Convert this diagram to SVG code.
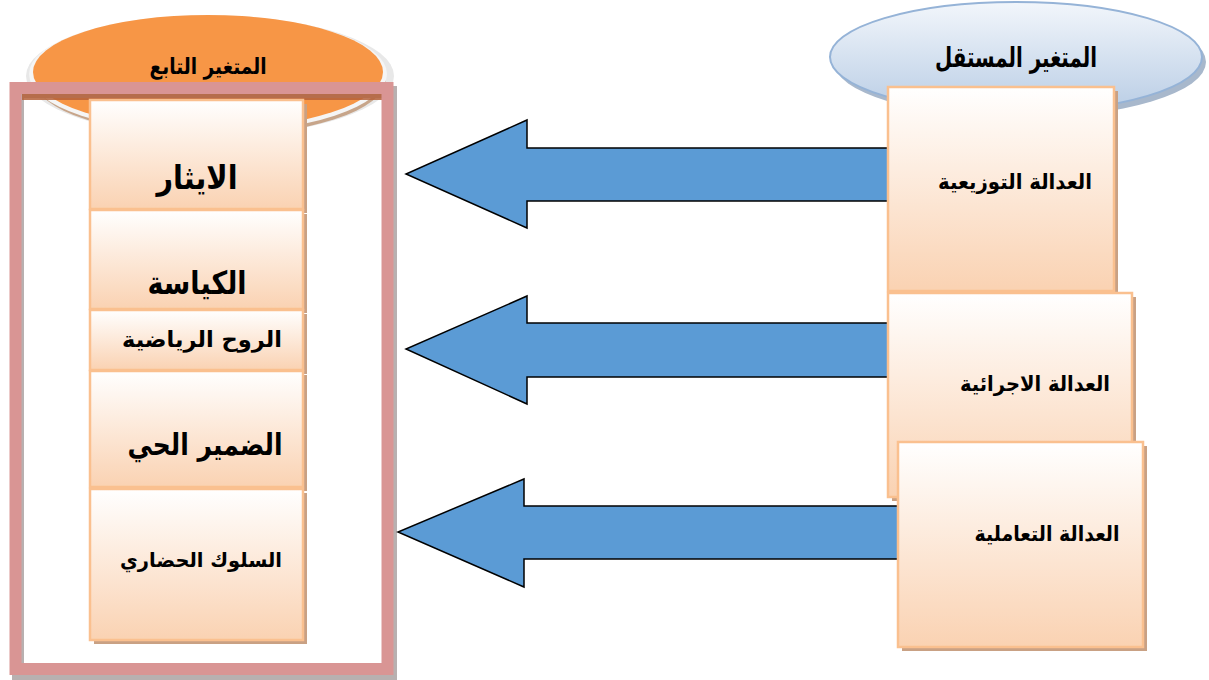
<svg xmlns="http://www.w3.org/2000/svg" width="1209" height="680" viewBox="0 0 1209 680">
<defs>
<linearGradient id="peach" x1="0" y1="0" x2="0" y2="1">
<stop offset="0" stop-color="#FFFFFF"/>
<stop offset="1" stop-color="#FAD2B2"/>
</linearGradient>
<linearGradient id="blue" x1="0" y1="0" x2="0" y2="1">
<stop offset="0" stop-color="#F2F6FB"/>
<stop offset="1" stop-color="#B9CDE5"/>
</linearGradient>
<style>
.box{fill:url(#peach);stroke:#FAC08F;stroke-width:2.5}
.shadow{fill:#C9A184}
.arrow{fill:#5B9BD5;stroke:#000000;stroke-width:1.5;stroke-linejoin:miter}
.t{font-family:"DejaVu Sans",sans-serif;font-weight:bold;fill:#000000;text-anchor:middle}
</style>
</defs>
<rect width="1209" height="680" fill="#FFFFFF"/>

<g id="dependent-title">
<ellipse cx="210" cy="76" rx="184" ry="60" fill="#E8E8E8"/>
<ellipse cx="210" cy="79" rx="176" ry="57" fill="#C7A58A"/>
<ellipse cx="208" cy="74" rx="179" ry="59" fill="#F5F5F5"/>
<ellipse cx="208" cy="72" rx="175" ry="57" fill="#F79646"/>
<text class="t" x="208" y="74" font-size="22" textLength="117" lengthAdjust="spacingAndGlyphs">المتغير التابع</text>
</g>

<g id="dependent-frame">
<rect x="18" y="92" width="373" height="583" fill="none" stroke="#B8B0B0" stroke-width="12"/>
<rect x="22" y="94" width="360" height="6" fill="#B5613A" opacity="0.85"/>
<rect x="15.5" y="88" width="372" height="581" fill="none" stroke="#D99594" stroke-width="12"/>
</g>

<g id="box-ithar">
<rect class="shadow" x="94" y="104" width="213" height="109"/>
<rect class="box" x="90" y="100" width="213" height="109"/>
<text class="t" x="197" y="189" font-size="33" textLength="81" lengthAdjust="spacingAndGlyphs">الايثار</text>
</g>
<g id="box-kiyasa">
<rect class="shadow" x="94" y="214" width="213" height="99"/>
<rect class="box" x="90" y="210" width="213" height="99"/>
<text class="t" x="197" y="294" font-size="32" textLength="99" lengthAdjust="spacingAndGlyphs">الكياسة</text>
</g>
<g id="box-sportsmanship">
<rect class="shadow" x="94" y="314" width="213" height="60"/>
<rect class="box" x="90" y="310" width="213" height="60"/>
<text class="t" x="202" y="347" font-size="22" textLength="160" lengthAdjust="spacingAndGlyphs">الروح الرياضية</text>
</g>
<g id="box-conscience">
<rect class="shadow" x="94" y="375" width="213" height="116"/>
<rect class="box" x="90" y="371" width="213" height="116"/>
<text class="t" x="205" y="455" font-size="30" textLength="155" lengthAdjust="spacingAndGlyphs">الضمير الحي</text>
</g>
<g id="box-civic">
<rect class="shadow" x="94" y="493" width="213" height="151"/>
<rect class="box" x="90" y="489" width="213" height="151"/>
<text class="t" x="201" y="567" font-size="20" textLength="162" lengthAdjust="spacingAndGlyphs">السلوك الحضاري</text>
</g>

<g id="independent-title">
<ellipse cx="1020" cy="62" rx="186" ry="56" fill="#A8B8CC"/>
<ellipse cx="1016" cy="57" rx="186" ry="55" fill="url(#blue)" stroke="#95B3D7" stroke-width="2"/>
<text class="t" x="1016" y="67" font-size="28" textLength="162" lengthAdjust="spacingAndGlyphs">المتغير المستقل</text>
</g>

<g id="connectors">
<polygon class="arrow" points="889,148 527,148 527,120 406,174 527,228 527,201 889,201"/>
<polygon class="arrow" points="889,323 527,323 527,296 406,349 527,404 527,377 889,377"/>
<polygon class="arrow" points="899,506 524,506 524,479 398,532 524,587 524,559 899,559"/>
</g>

<g id="box-distributive">
<rect class="shadow" x="892" y="91" width="226" height="204"/>
<rect class="box" x="888" y="87" width="226" height="204"/>
<text class="t" x="1015" y="189" font-size="21" textLength="154" lengthAdjust="spacingAndGlyphs">العدالة التوزيعية</text>
</g>
<g id="box-procedural">
<rect class="shadow" x="892" y="297" width="244" height="204"/>
<rect class="box" x="888" y="293" width="244" height="204"/>
<text class="t" x="1035" y="391" font-size="21" textLength="150" lengthAdjust="spacingAndGlyphs">العدالة الاجرائية</text>
</g>
<g id="box-interactional">
<rect class="shadow" x="902" y="446" width="245" height="205"/>
<rect class="box" x="898" y="442" width="245" height="205"/>
<text class="t" x="1047" y="541" font-size="21" textLength="145" lengthAdjust="spacingAndGlyphs">العدالة التعاملية</text>
</g>
</svg>
